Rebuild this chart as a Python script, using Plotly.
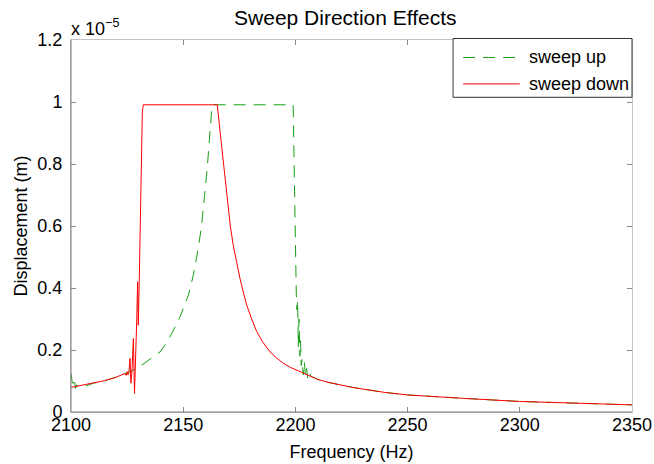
import plotly.graph_objects as go

# Displacement values are in units of 1e-5 m (see the axis multiplier label).
# Sweep up: lower branch, jump up to the saturated branch near 2163 Hz,
# drop-off near 2199 Hz with ringing, then the lower branch again.
up_freq = [2100.0, 2100.5, 2101.0, 2101.5, 2102.0, 2102.5, 2103.5, 2106.0,
           2110.0, 2115.0, 2120.0, 2124.0, 2127.8, 2131.5, 2136.0, 2139.7,
           2142.5, 2144.9, 2148.6, 2152.3, 2154.5, 2156.7, 2158.2, 2159.7,
           2160.7, 2161.6, 2162.4, 2162.9, 2199.0, 2199.4, 2199.8, 2200.1,
           2200.4, 2200.7, 2201.0, 2201.3, 2201.6, 2202.0, 2202.3, 2202.6,
           2203.0, 2203.5, 2204.0, 2204.5, 2205.0, 2205.5, 2206.0, 2207.0,
           2208.0, 2210.0, 2215.0, 2220.0, 2225.0, 2230.0, 2235.0, 2240.0,
           2250.0, 2260.0, 2275.0, 2300.0, 2325.0, 2350.0]
up_disp = [0.125, 0.098, 0.092, 0.109, 0.076, 0.087, 0.080, 0.082,
           0.093, 0.101, 0.112, 0.124, 0.135, 0.151, 0.173, 0.194,
           0.222, 0.253, 0.307, 0.377, 0.441, 0.527, 0.602, 0.699,
           0.785, 0.871, 0.957, 0.991, 0.991, 0.800, 0.550, 0.436,
           0.380, 0.330, 0.360, 0.210, 0.300, 0.180, 0.230, 0.150,
           0.170, 0.120, 0.160, 0.115, 0.140, 0.110, 0.130, 0.115,
           0.112, 0.105, 0.095, 0.087, 0.080, 0.074, 0.068, 0.063,
           0.055, 0.050, 0.044, 0.034, 0.028, 0.023]

# Sweep down: lower branch until the jump near 2131 Hz (with ringing),
# saturated plateau, then the falling flank of the resonance.
down_freq = [2100.0, 2105.0, 2110.0, 2115.0, 2120.0, 2124.0, 2124.6, 2125.0,
             2125.4, 2125.8, 2126.3, 2126.7, 2127.2, 2127.8, 2128.3, 2128.8,
             2129.3, 2129.7, 2130.0, 2130.4, 2130.8, 2131.3, 2131.8, 2132.2,
             2165.2, 2166.5, 2167.9, 2169.0, 2170.1, 2171.0, 2172.3, 2174.0,
             2175.3, 2177.0, 2178.3, 2180.5, 2182.8, 2185.5, 2188.7, 2191.5,
             2194.6, 2198.0, 2201.7, 2205.0, 2210.0, 2215.0, 2220.0, 2225.0,
             2230.0, 2235.0, 2240.0, 2250.0, 2260.0, 2275.0, 2300.0, 2325.0,
             2350.0]
down_disp = [0.0795, 0.086, 0.093, 0.101, 0.112, 0.124, 0.118, 0.130,
             0.120, 0.128, 0.173, 0.093, 0.135, 0.237, 0.060, 0.150,
             0.300, 0.420, 0.280, 0.420, 0.560, 0.850, 0.970, 0.991,
             0.991, 0.900, 0.806, 0.730, 0.667, 0.600, 0.538, 0.475,
             0.431, 0.380, 0.345, 0.300, 0.259, 0.225, 0.194, 0.175,
             0.157, 0.143, 0.132, 0.121, 0.105, 0.095, 0.087, 0.080,
             0.074, 0.068, 0.063, 0.055, 0.050, 0.044, 0.034, 0.028,
             0.023]

series_names = ["sweep up", "sweep down"]
x_ticks = [2100, 2150, 2200, 2250, 2300, 2350]
y_ticks = [0, 0.2, 0.4, 0.6, 0.8, 1.0, 1.2]
y_tick_text = ["0", "0.2", "0.4", "0.6", "0.8", "1", "1.2"]

GREEN = "rgb(20,160,20)"
RED = "rgb(255,0,0)"
FONT = "Liberation Sans, Arial, Helvetica, sans-serif"
DASH = "12px,8px"

fig = go.Figure()
fig.add_trace(go.Scatter(x=up_freq, y=up_disp, mode="lines", name=series_names[0],
                         line=dict(color=GREEN, width=1, dash=DASH),
                         showlegend=False))
fig.add_trace(go.Scatter(x=down_freq, y=down_disp, mode="lines", name=series_names[1],
                         line=dict(color=RED, width=1),
                         showlegend=False))

axis_common = dict(
    showgrid=False, zeroline=False, showline=True, linecolor="#c4c4c4",
    linewidth=1, mirror="ticks", ticks="inside", ticklen=5, tickcolor="#8a8a8a",
    tickfont=dict(size=18, color="#000000", family=FONT), automargin=False,
)

fig.update_xaxes(range=[2100, 2350], tickvals=x_ticks, ticklabelstandoff=-4,
                 title=dict(text="Frequency (Hz)", font=dict(size=18, family=FONT),
                            standoff=11),
                 **axis_common)
fig.update_yaxes(range=[0, 1.2], tickvals=y_ticks, ticktext=y_tick_text,
                 ticklabelstandoff=4,
                 title=dict(text="Displacement (m)", font=dict(size=18, family=FONT),
                            standoff=5),
                 **axis_common)

shapes = [
    # darker left and bottom axis lines
    dict(type="line", xref="paper", yref="paper", x0=0, x1=0, y0=0, y1=1,
         line=dict(color="#7f7f7f", width=1), layer="above"),
    dict(type="line", xref="paper", yref="paper", x0=0, x1=1, y0=0, y1=0,
         line=dict(color="#7f7f7f", width=1), layer="above"),
]

# legend box drawn in paper coordinates
lg_x0, lg_x1, lg_y0, lg_y1 = 0.681, 1.0, 0.846, 1.004
shapes.append(dict(type="rect", xref="paper", yref="paper", x0=lg_x0, x1=lg_x1,
                   y0=lg_y0, y1=lg_y1, line=dict(color="#333333", width=1),
                   fillcolor="white", layer="above"))
row_y = [0.953, 0.882]
sample_x0, sample_x1 = 0.699, 0.800
shapes.append(dict(type="line", xref="paper", yref="paper", x0=sample_x0, x1=sample_x1,
                   y0=row_y[0], y1=row_y[0], line=dict(color=GREEN, width=1, dash=DASH),
                   layer="above"))
shapes.append(dict(type="line", xref="paper", yref="paper", x0=sample_x0, x1=sample_x1,
                   y0=row_y[1], y1=row_y[1], line=dict(color=RED, width=1),
                   layer="above"))

annotations = [
    dict(text="x 10<sup>−5</sup>", xref="paper", yref="paper", x=0, y=1,
         xanchor="left", yanchor="bottom", yshift=-1, xshift=-2, showarrow=False,
         font=dict(size=18, family=FONT, color="#000000")),
]
for name, yy in zip(series_names, row_y):
    annotations.append(dict(text=name, xref="paper", yref="paper", x=0.812, y=yy,
                            xanchor="left", yanchor="middle", showarrow=False,
                            font=dict(size=18, family=FONT, color="#000000")))

fig.update_layout(
    width=654, height=464,
    margin=dict(l=71, r=22, t=40, b=52),
    paper_bgcolor="white", plot_bgcolor="white",
    font=dict(family=FONT, color="#000000"),
    title=dict(text="Sweep Direction Effects", x=0.489, xref="paper", xanchor="center",
               y=0.962, yref="container", yanchor="middle",
               font=dict(size=21, family=FONT, color="#000000")),
    shapes=shapes, annotations=annotations,
)

fig.write_html("out.html")
